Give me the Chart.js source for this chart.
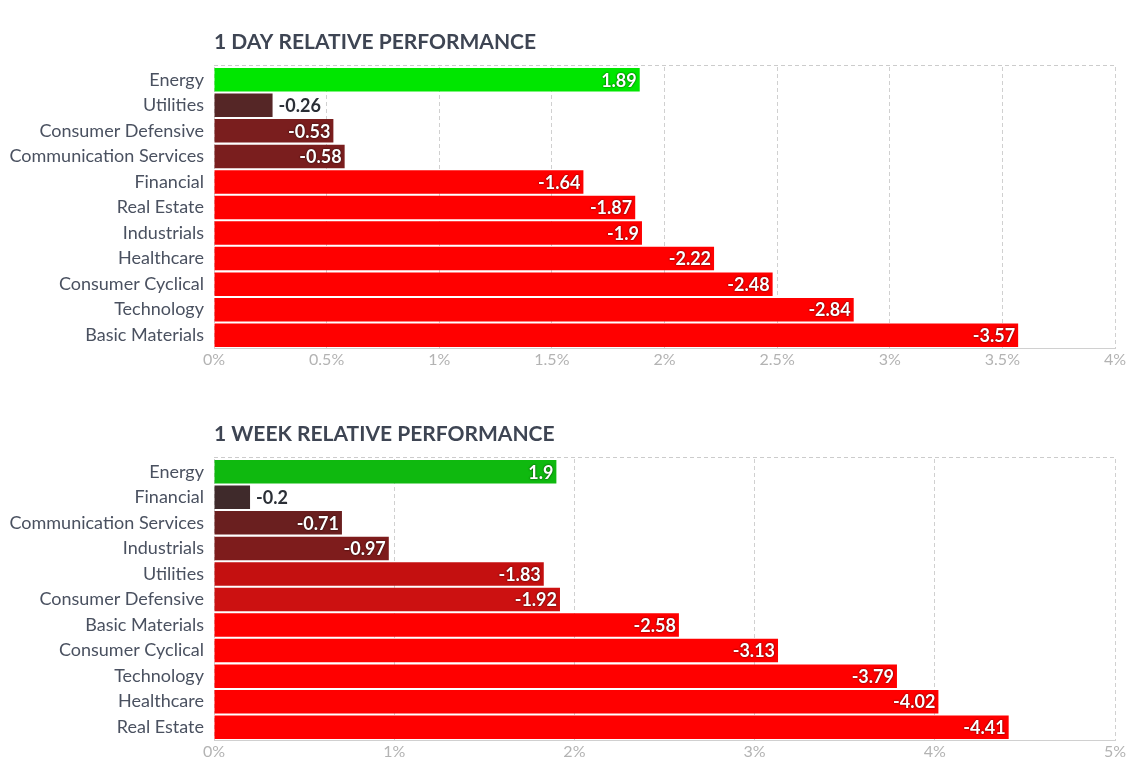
<!DOCTYPE html>
<html>
<head>
<meta charset="utf-8">
<script src="https://cdn.jsdelivr.net/npm/chart.js@4"></script>
<style>
  html, body { margin: 0; padding: 0; background: #fff; }
  .box { position: absolute; left: 0; width: 1148px; height: 380px; }
</style>
</head>
<body>
<div class="box" style="top:0"><canvas id="dayChart"></canvas></div>
<div class="box" style="top:392px"><canvas id="weekChart"></canvas></div>
<script>
// 1 day
const dayLabels = ["Energy", "Utilities", "Consumer Defensive", "Communication Services", "Financial",
  "Real Estate", "Industrials", "Healthcare", "Consumer Cyclical", "Technology", "Basic Materials"];
const dayValues = [1.89, -0.26, -0.53, -0.58, -1.64, -1.87, -1.9, -2.22, -2.48, -2.84, -3.57];
const dayColors = ["#00e600", "#552626", "#7a1e1e", "#7a1e1e", "#ff0000", "#ff0000",
  "#ff0000", "#ff0000", "#ff0000", "#ff0000", "#ff0000"];
const dayTicks = ["0%", "0.5%", "1%", "1.5%", "2%", "2.5%", "3%", "3.5%", "4%"];

// 1 week
const weekLabels = ["Energy", "Financial", "Communication Services", "Industrials", "Utilities",
  "Consumer Defensive", "Basic Materials", "Consumer Cyclical", "Technology", "Healthcare", "Real Estate"];
const weekValues = [1.9, -0.2, -0.71, -0.97, -1.83, -1.92, -2.58, -3.13, -3.79, -4.02, -4.41];
const weekColors = ["#0fb90f", "#3f2a2b", "#6a1f1f", "#7e1c1c", "#c41010", "#cc1111",
  "#ff0000", "#ff0000", "#ff0000", "#ff0000", "#ff0000"];
const weekTicks = ["0%", "1%", "2%", "3%", "4%", "5%"];

const FONT = "Lato, 'Open Sans', sans-serif";

// title + top border + value labels
const extras = {
  id: "extras",
  beforeDatasetsDraw(chart) {
    const { ctx, chartArea } = chart;
    ctx.save();
    ctx.strokeStyle = "#cccccc";
    ctx.lineWidth = 1;
    ctx.setLineDash([4, 3]);
    ctx.beginPath();
    ctx.moveTo(chartArea.left, chartArea.top - 1.5);
    ctx.lineTo(chartArea.right, chartArea.top - 1.5);
    ctx.stroke();
    ctx.restore();
  },
  afterDatasetsDraw(chart, args, opts) {
    const { ctx, chartArea } = chart;
    ctx.save();
    ctx.font = "bold 21px " + FONT;
    ctx.fillStyle = "#3e4553";
    ctx.textBaseline = "middle";
    ctx.textAlign = "left";
    ctx.fillText(opts.title, chartArea.left, 42);

    const meta = chart.getDatasetMeta(0);
    ctx.font = "bold 18px " + FONT;
    meta.data.forEach((bar, i) => {
      const txt = String(opts.values[i]);
      const w = ctx.measureText(txt).width;
      const barW = bar.x - bar.base;
      if (barW > w + 20) {
        ctx.textAlign = "right";
        ctx.fillStyle = "#ffffff";
        ctx.shadowColor = "rgba(0,0,0,0.85)";
        ctx.shadowBlur = 2;
        ctx.fillText(txt, bar.x - 3, bar.y + 1);
      } else {
        ctx.textAlign = "left";
        ctx.shadowBlur = 0;
        ctx.shadowColor = "transparent";
        ctx.fillStyle = "#2b2f36";
        ctx.fillText(txt, bar.x + 6, bar.y + 1);
      }
    });
    ctx.restore();
  }
};

function makeChart(id, title, labels, values, colors, ticks, max, step) {
  const ctx = document.getElementById(id).getContext("2d");
  return new Chart(ctx, {
    type: "bar",
    data: {
      labels: labels,
      datasets: [{
        data: values.map(v => Math.abs(v)),
        backgroundColor: colors,
        barPercentage: 0.92,
        categoryPercentage: 1.0,
      }],
    },
    plugins: [extras],
    options: {
      indexAxis: "y",
      responsive: true,
      maintainAspectRatio: false,
      animation: false,
      layout: { padding: { top: 67, right: 33, bottom: 2, left: 0 } },
      plugins: {
        legend: { display: false },
        tooltip: { enabled: false },
        extras: { title: title, values: values },
      },
      scales: {
        x: {
          min: 0,
          max: max,
          ticks: {
            stepSize: step,
            padding: 2,
            color: "#b3b3b3",
            font: { family: FONT, size: 16 },
            callback: (v, i) => ticks[i],
          },
          grid: { color: "#d0d0d0", drawTicks: false },
          border: { display: true, color: "#d0d0d0", dash: [4, 3] },
          afterFit: s => { s.height = 30; },
        },
        y: {
          ticks: {
            padding: 2,
            color: "#4a5160",
            font: { family: FONT, size: 18 },
          },
          grid: { display: false },
          border: { display: false },
          afterFit: s => { s.width = 214; },
        },
      },
    },
  });
}

document.addEventListener("DOMContentLoaded", () => {
  makeChart("dayChart", "1 DAY RELATIVE PERFORMANCE", dayLabels, dayValues, dayColors, dayTicks, 4, 0.5);
  makeChart("weekChart", "1 WEEK RELATIVE PERFORMANCE", weekLabels, weekValues, weekColors, weekTicks, 5, 1);
});
</script>
</body>
</html>
